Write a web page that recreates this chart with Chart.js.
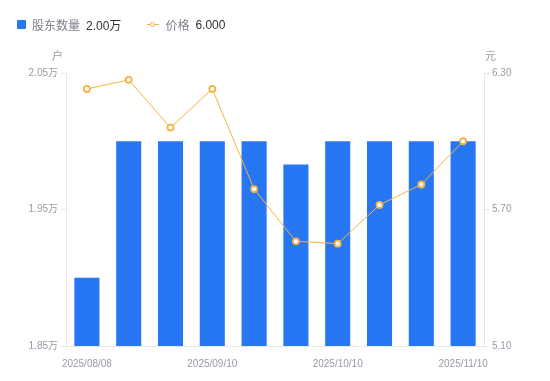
<!DOCTYPE html>
<html><head><meta charset="utf-8">
<script src="https://cdn.jsdelivr.net/npm/chart.js@4.4.1/dist/chart.umd.min.js"></script>
<style>
html,body{margin:0;padding:0;background:#fff;}
#wrap{position:relative;width:550px;height:381px;}
#legend{position:absolute;left:17px;top:16px;font-family:"Liberation Sans","Noto Sans CJK SC",sans-serif;font-size:12px;display:flex;align-items:center;white-space:nowrap;}
.item{display:flex;align-items:center;margin-right:26px;}
.sq{width:9px;height:9px;background:#2777f5;border-radius:1px;margin-right:6px;}
.ln{position:relative;width:12px;height:9px;margin-right:6px;}
.ln:before{content:"";position:absolute;left:0;right:0;top:4px;height:1px;background:#f7b23e;}
.ln:after{content:"";position:absolute;left:3px;top:1.5px;width:3px;height:3px;border:1.5px solid #f7b23e;border-radius:50%;background:#fff;}
.nm{color:#80808e;margin-right:6px;}
.vl{color:#333;}
canvas{position:absolute;left:0;top:0;}
</style></head>
<body><div id="wrap"><canvas id="c" width="550" height="381"></canvas>
<div id="legend"></div></div>
<script>
const categories = ["2025/08/08","2025/08/20","2025/08/29","2025/09/10","2025/09/19","2025/09/30","2025/10/10","2025/10/20","2025/10/31","2025/11/10"];
const holders = [1.90, 2.00, 2.00, 2.00, 2.00, 1.983, 2.00, 2.00, 2.00, 2.00]; // 万户
const price = [6.23, 6.27, 6.06, 6.23, 5.79, 5.56, 5.55, 5.72, 5.81, 6.00];
const leftTicks = [1.85, 1.95, 2.05];
const rightTicks = [5.10, 5.70, 6.30];
const leftUnit = "户", rightUnit = "元";

const FONT = '"Liberation Sans","Noto Sans CJK SC",sans-serif';
const tickColor = "#9a9aa8";
const lineColor = "#e6e6e6";

document.getElementById('legend').innerHTML =
  '<div class="item"><div class="sq"></div><span class="nm">股东数量</span><span class="vl">'+holders[holders.length-1].toFixed(2)+'万</span></div>'+
  '<div class="item"><div class="ln"></div><span class="nm">价格</span><span class="vl">'+price[price.length-1].toFixed(3)+'</span></div>';

const unitPlugin = {
  id:'units',
  afterDraw(chart){
    const ctx = chart.ctx;
    ctx.save();
    ctx.font = '11px ' + FONT;
    ctx.fillStyle = tickColor;
    ctx.textBaseline = 'middle';
    const ca = chart.chartArea;
    ctx.textAlign = 'right';
    ctx.fillText(leftUnit, ca.left - 3, 57);
    ctx.textAlign = 'left';
    ctx.fillText(rightUnit, ca.right + 1, 57);
    ctx.restore();
  }
};

new Chart(document.getElementById('c'), {
  data: {
    labels: categories,
    datasets: [
      { type:'line', label:'价格', data:price, yAxisID:'y1', order:0,
        borderColor:'#f7b23e', borderWidth:1, backgroundColor:'#fff',
        pointRadius:3, pointBorderWidth:1.8, pointBorderColor:'#f7b23e', pointBackgroundColor:'#fff',
        tension:0 },
      { type:'bar', label:'股东数量', data:holders, yAxisID:'y', order:1,
        backgroundColor:'#2777f5', barPercentage:0.6, categoryPercentage:1 }
    ]
  },
  options: {
    responsive:false, animation:false,
    layout:{padding:{left:0,right:0,top:73,bottom:0}},
    plugins:{legend:{display:false}, tooltip:{enabled:false}},
    scales:{
      x:{ grid:{display:false}, border:{display:true,color:lineColor},
          ticks:{autoSkip:false, maxRotation:0, color:tickColor, font:{family:FONT,size:10}, padding:4,
                 callback:(v,i)=> i%3===0 ? categories[i] : ''},
          afterFit(s){ s.height = 35; } },
      y:{ position:'left', min:leftTicks[0], max:leftTicks[leftTicks.length-1],
          afterBuildTicks(s){ s.ticks = leftTicks.map(v=>({value:v})); },
          grid:{drawOnChartArea:false, drawTicks:true, tickLength:5, color:lineColor},
          border:{display:true,color:lineColor},
          ticks:{color:tickColor, font:{family:FONT,size:10}, padding:3, callback:v=>v.toFixed(2)+'万'},
          afterFit(s){ s.width = 66; } },
      y1:{ position:'right', min:rightTicks[0], max:rightTicks[rightTicks.length-1],
          afterBuildTicks(s){ s.ticks = rightTicks.map(v=>({value:v})); },
          grid:{drawOnChartArea:false, drawTicks:true, tickLength:5, color:lineColor},
          border:{display:true,color:lineColor},
          ticks:{color:tickColor, font:{family:FONT,size:10}, padding:3, callback:v=>v.toFixed(2)},
          afterFit(s){ s.width = 66; } }
    }
  },
  plugins:[unitPlugin]
});
</script></body></html>
